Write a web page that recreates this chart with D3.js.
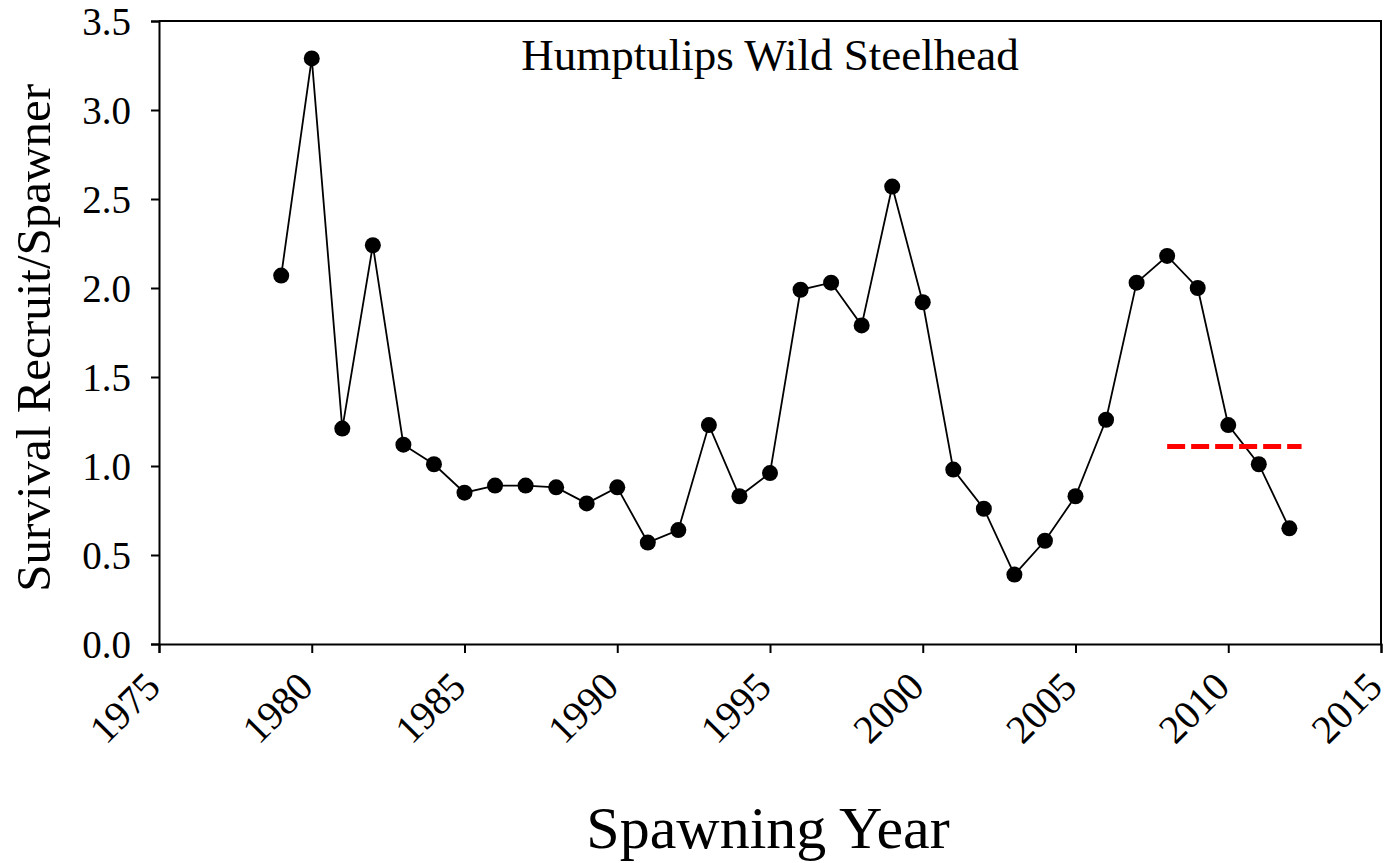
<!DOCTYPE html>
<html>
<head>
<meta charset="utf-8">
<script src="https://cdn.jsdelivr.net/npm/d3@7"></script>
<style>
  body { margin: 0; background: #fff; }
  text { font-family: "Liberation Serif", "Times New Roman", serif; fill: #000; }
</style>
</head>
<body>
<svg width="1393" height="863"></svg>
<script>
// Data
const years = [1979, 1980, 1981, 1982, 1983, 1984, 1985, 1986, 1987, 1988, 1989, 1990,
  1991, 1992, 1993, 1994, 1995, 1996, 1997, 1998, 1999, 2000, 2001, 2002, 2003, 2004,
  2005, 2006, 2007, 2008, 2009, 2010, 2011, 2012];
const survival = [2.07, 3.29, 1.21, 2.24, 1.12, 1.01, 0.85, 0.89, 0.89, 0.88, 0.79, 0.88,
  0.57, 0.64, 1.23, 0.83, 0.96, 1.99, 2.03, 1.79, 2.57, 1.92, 0.98, 0.76, 0.39, 0.58,
  0.83, 1.26, 2.03, 2.18, 2.00, 1.23, 1.01, 0.65];
// Recent-period mean (red dashed line)
const meanYears = [2008, 2012.4];
const meanValue = 1.11;

const xTicks = [1975, 1980, 1985, 1990, 1995, 2000, 2005, 2010, 2015];
const yTicks = [0, 0.5, 1.0, 1.5, 2.0, 2.5, 3.0, 3.5];

const svg = d3.select("svg"),
    margin = { top: 21, right: 12, bottom: 219, left: 159 },
    width = +svg.attr("width") - margin.left - margin.right,
    height = +svg.attr("height") - margin.top - margin.bottom;

const g = svg.append("g").attr("transform", `translate(${margin.left},${margin.top})`);

const x = d3.scaleLinear().domain([1975, 2015]).range([0, width]);
const y = d3.scaleLinear().domain([0, 3.5]).range([height, 0]);

// Frame (top and right)
g.append("path")
  .attr("fill", "none")
  .attr("stroke", "#000")
  .attr("stroke-width", 2)
  .attr("d", `M0,0H${width}V${height}`);

// Axes
const xAxis = g.append("g")
  .attr("transform", `translate(0,${height})`)
  .call(d3.axisBottom(x).tickValues(xTicks).tickFormat(d3.format("d")).tickSizeOuter(0).tickSize(9));
xAxis.selectAll("text")
  .attr("font-size", 40)
  .attr("text-anchor", "end")
  .attr("dy", null)
  .attr("y", 0)
  .attr("transform", "translate(3,45) rotate(-45)");

const yAxis = g.append("g")
  .call(d3.axisLeft(y).tickValues(yTicks).tickFormat(d3.format(".1f")).tickSizeOuter(0).tickSize(8));
yAxis.selectAll("text").attr("font-size", 39).attr("x", -28).attr("dy", "0.34em");

[xAxis, yAxis].forEach(a => {
  a.select(".domain").attr("stroke-width", 2);
  a.selectAll(".tick line").attr("stroke-width", 2);
});

// Line + markers
const pts = years.map((yr, i) => ({ year: yr, value: survival[i] }));
const lineGenerator = d3.line().x(d => x(d.year)).y(d => y(d.value));

g.append("path")
  .datum(pts)
  .attr("fill", "none")
  .attr("stroke", "#000")
  .attr("stroke-width", 1.8)
  .attr("d", lineGenerator);

g.selectAll(".dot")
  .data(pts)
  .join("circle")
  .attr("class", "dot")
  .attr("cx", d => x(d.year))
  .attr("cy", d => y(d.value))
  .attr("r", 8);

// Mean line
g.append("line")
  .attr("x1", x(meanYears[0]))
  .attr("x2", x(meanYears[1]))
  .attr("y1", y(meanValue))
  .attr("y2", y(meanValue))
  .attr("stroke", "#ff0000")
  .attr("stroke-width", 5)
  .attr("stroke-dasharray", "18,6");

// Titles
svg.append("text")
  .attr("x", 770)
  .attr("y", 70)
  .attr("text-anchor", "middle")
  .attr("font-size", 45)
  .text("Humptulips Wild Steelhead");

svg.append("text")
  .attr("x", 768)
  .attr("y", 848)
  .attr("text-anchor", "middle")
  .attr("font-size", 60)
  .text("Spawning Year");

svg.append("text")
  .attr("transform", `translate(50,${margin.top + y(1.72)}) rotate(-90)`)
  .attr("text-anchor", "middle")
  .attr("font-size", 49)
  .text("Survival Recruit/Spawner");
</script>
</body>
</html>
